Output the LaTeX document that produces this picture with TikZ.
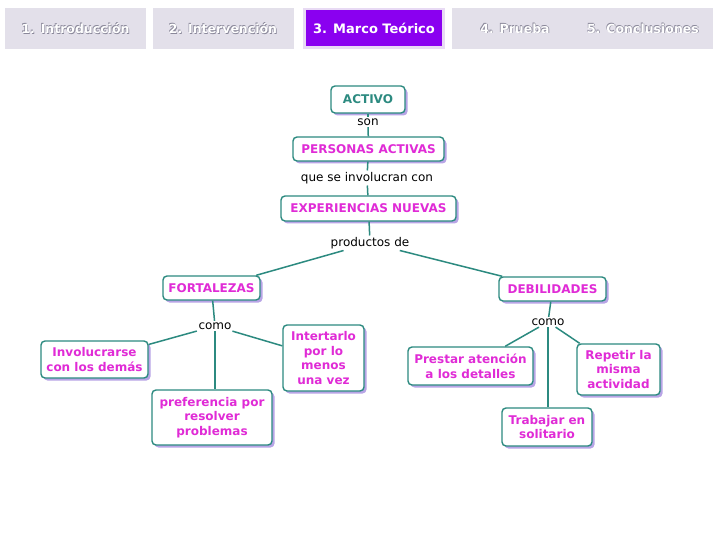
\documentclass[tikz,border=0pt]{standalone}
\usepackage{fontspec}
\setmainfont{DejaVu Sans}
\usetikzlibrary{shadows}
\definecolor{tealc}{HTML}{2C8A80}
\definecolor{magc}{HTML}{E02BD6}
\definecolor{shadc}{HTML}{B8A4E6}
\definecolor{tabgrey}{HTML}{E3E0EA}
\definecolor{tabpurple}{HTML}{8A00F0}
\definecolor{tabframe}{HTML}{E8DAF4}
\definecolor{tabshade}{HTML}{8A889A}
\begin{document}
\begin{tikzpicture}[x=1pt,y=-1pt,
  concept/.style={draw=tealc,line width=1.4pt,fill=white,rounded corners=4pt,
    text=magc,font=\fontsize{12}{14.6}\selectfont\bfseries,align=center,inner sep=0pt,
    drop shadow={shadow xshift=2.5pt,shadow yshift=-2.5pt,fill=shadc,opacity=1}},
  lbl/.style={font=\fontsize{12}{14}\selectfont,text=black,inner sep=1.5pt},
  link/.style={draw=tealc,line width=1.5pt},
  tabbox/.style={fill=tabgrey,draw=none},
  tabtxt/.style={font=\fontsize{12.5}{14}\selectfont\bfseries,text=white},
  tabsh/.style={font=\fontsize{12.5}{14}\selectfont\bfseries,text=tabshade}]
\useasboundingbox (0,0) rectangle (720,540);
\fill[white] (0,0) rectangle (720,540);

% tabs
\node[tabbox,minimum width=141pt,minimum height=41pt] (t1) at (75.5,28.5) {};
\node[tabbox,minimum width=141pt,minimum height=41pt] (t2) at (223,28.5) {};
\node[fill=tabframe,minimum width=142pt,minimum height=41pt] (t3f) at (374,28.5) {};
\node[fill=tabpurple,minimum width=136pt,minimum height=36pt] (t3) at (374,28.5) {};
\node[tabbox,minimum width=261pt,minimum height=41pt] (t45) at (582.5,28.5) {};

\node[tabsh] (s1) at (76.2,29.2) {1. Introducción};
\node[tabsh] (r1) at (74.9,27.9) {1. Introducción};
\node[tabtxt] (l1) at (75.5,28.5) {1. Introducción};
\node[tabsh] (s2) at (223.7,29.2) {2. Intervención};
\node[tabsh] (r2) at (222.4,27.9) {2. Intervención};
\node[tabtxt] (l2) at (223,28.5) {2. Intervención};
\node[font=\fontsize{13}{14}\selectfont\bfseries,text=white] (l3) at (374,28.5) {3. Marco Teórico};
\node[tabsh] (s4) at (515.7,29.2) {4. Prueba};
\node[tabsh] (r4) at (514.4,27.9) {4. Prueba};
\node[tabtxt] (l4) at (515,28.5) {4. Prueba};
\node[tabsh] (s5) at (643.7,29.2) {5. Conclusiones};
\node[tabsh] (r5) at (642.4,27.9) {5. Conclusiones};
\node[tabtxt] (l5) at (643,28.5) {5. Conclusiones};

% concepts
\node[concept,text=tealc,minimum width=74pt,minimum height=27pt] (activo) at (368,99.5) {ACTIVO};
\node[concept,minimum width=151pt,minimum height=24pt] (personas) at (368.5,149) {PERSONAS ACTIVAS};
\node[concept,minimum width=175pt,minimum height=25pt] (exper) at (368.5,208.5) {EXPERIENCIAS NUEVAS};
\node[concept,minimum width=97pt,minimum height=24pt] (fort) at (211.5,288) {FORTALEZAS};
\node[concept,minimum width=107pt,minimum height=24pt] (debil) at (552.5,289) {DEBILIDADES};
\node[concept,minimum width=107pt,minimum height=37pt] (invol) at (94.5,359.5) {Involucrarse\\con los demás};
\node[concept,minimum width=81pt,minimum height=66pt] (intert) at (323.5,358) {Intertarlo\\por lo\\menos\\una vez};
\node[concept,minimum width=120pt,minimum height=55pt] (pref) at (212,417.5) {preferencia por\\resolver\\problemas};
\node[concept,minimum width=125pt,minimum height=38pt] (prestar) at (470.5,366) {Prestar atención\\a los detalles};
\node[concept,minimum width=83pt,minimum height=51pt] (repetir) at (618.5,369.5) {Repetir la\\misma\\actividad};
\node[concept,minimum width=90pt,minimum height=38pt] (trabajar) at (547,427) {Trabajar en\\solitario};

% linking phrases
\node[lbl] (son) at (368,122) {son};
\node[lbl] (que) at (367,178) {que se involucran con};
\node[lbl] (prod) at (370,243) {productos de};
\node[lbl] (como1) at (215,326) {como};
\node[lbl] (como2) at (548,322) {como};

% connectors
\draw[link] (activo) -- (son);
\draw[link] (son) -- (personas);
\draw[link] (personas) -- (que);
\draw[link] (que) -- (exper);
\draw[link] (exper) -- (prod);
\draw[link] (prod) -- (fort);
\draw[link] (prod) -- (debil);
\draw[link] (fort) -- (como1);
\draw[link] (como1) -- (invol);
\draw[link] (como1) -- (intert);
\draw[link] (como1.south) -- (pref.north -| como1.south);
\draw[link] (debil) -- (como2);
\draw[link] (como2) -- (prestar);
\draw[link] (como2) -- (repetir);
\draw[link] (como2.south) -- (trabajar.north -| como2.south);
\end{tikzpicture}
\end{document}
